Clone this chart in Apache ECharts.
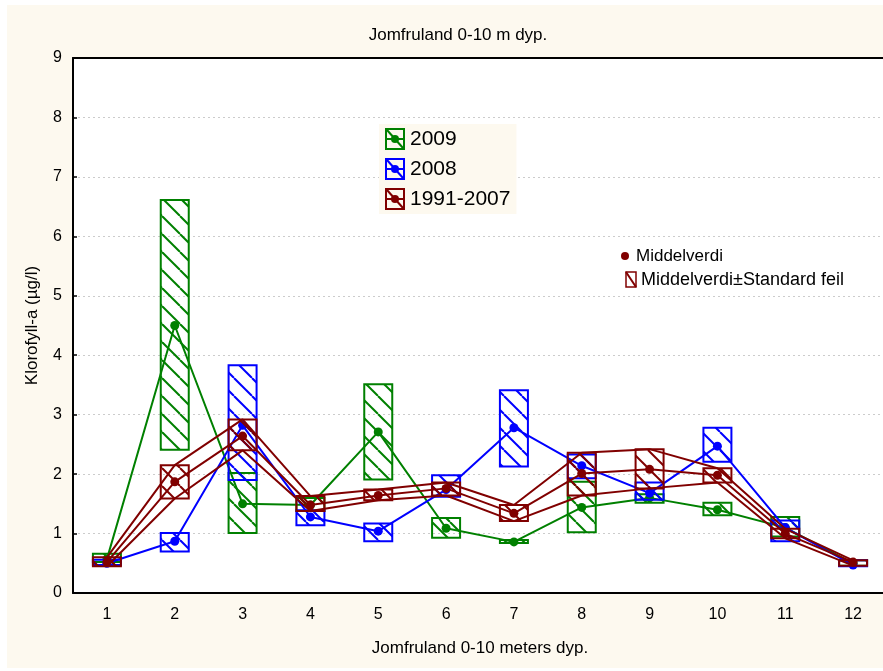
<!DOCTYPE html>
<html>
<head>
<meta charset="utf-8">
<script src="https://cdn.jsdelivr.net/npm/echarts@6/dist/echarts.min.js"></script>
<style>
  html, body { margin: 0; padding: 0; background: #fff; }
  #chart { width: 883px; height: 671px; }
</style>
</head>
<body>
<div id="chart"></div>
<script>
const depths = ['1', '2', '3', '4', '5', '6', '7', '8', '9', '10', '11', '12'];

const mean2009 = [0.57, 4.50, 1.50, 1.48, 2.71, 1.09, 0.86, 1.44, 1.60, 1.40, 1.10, 0.50];
const low2009  = [0.52, 2.41, 1.01, 1.38, 1.91, 0.93, 0.84, 1.02, 1.52, 1.31, 0.95, 0.46];
const high2009 = [0.66, 6.61, 2.02, 1.60, 3.51, 1.26, 0.89, 1.87, 1.66, 1.52, 1.28, 0.55];

const mean2008 = [0.50, 0.87, 2.82, 1.28, 1.04, 1.74, 2.78, 2.14, 1.68, 2.47, 1.10, 0.47];
const low2008  = [0.47, 0.70, 1.90, 1.14, 0.87, 1.62, 2.13, 1.93, 1.57, 2.21, 0.87, 0.45];
const high2008 = [0.56, 1.01, 3.83, 1.39, 1.17, 1.98, 3.41, 2.33, 1.86, 2.78, 1.22, 0.55];

const meanOld = [0.52, 1.87, 2.64, 1.48, 1.64, 1.76, 1.34, 2.01, 2.08, 1.98, 1.00, 0.52];
const lowOld  = [0.45, 1.59, 2.40, 1.38, 1.56, 1.64, 1.21, 1.64, 1.76, 1.86, 0.92, 0.46];
const highOld = [0.60, 2.15, 2.92, 1.63, 1.74, 1.86, 1.48, 2.36, 2.42, 2.10, 1.08, 0.55];

const GREEN = '#008000';
const BLUE = '#0000ff';
const RED = '#800000';
const CREAM = '#fdf9ef';
const FONT = '"Liberation Sans", Arial, sans-serif';

function hatch(color) {
  const c = document.createElement('canvas');
  c.width = 18; c.height = 18;
  const ctx = c.getContext('2d');
  ctx.strokeStyle = color;
  ctx.lineWidth = 2;
  [-18, 0, 18].forEach(off => {
    ctx.beginPath();
    ctx.moveTo(off, 0);
    ctx.lineTo(off + 18, 18);
    ctx.stroke();
  });
  return { image: c, repeat: 'repeat' };
}

function legendIcon(color) {
  const c = document.createElement('canvas');
  c.width = 20; c.height = 22;
  const ctx = c.getContext('2d');
  ctx.strokeStyle = color;
  ctx.fillStyle = color;
  ctx.lineWidth = 2;
  ctx.strokeRect(1, 1, 18, 20);
  ctx.beginPath(); ctx.moveTo(2, 2); ctx.lineTo(18, 20); ctx.stroke();
  ctx.beginPath(); ctx.moveTo(1, 11); ctx.lineTo(19, 11); ctx.stroke();
  ctx.beginPath(); ctx.arc(10, 11, 4, 0, Math.PI * 2); ctx.fill();
  return 'image://' + c.toDataURL();
}

function boxData(lo, hi) {
  return depths.map((d, i) => [i, lo[i], hi[i]]);
}

function boxSeries(name, color, lo, hi, z) {
  const pattern = hatch(color);
  return {
    name: name,
    type: 'custom',
    z: z,
    data: boxData(lo, hi),
    renderItem: (params, api) => {
      const top = api.coord([api.value(0), api.value(2)]);
      const bot = api.coord([api.value(0), api.value(1)]);
      const w = 28;
      return {
        type: 'rect',
        shape: { x: top[0] - w / 2, y: top[1], width: w, height: bot[1] - top[1] },
        style: { fill: pattern, stroke: color, lineWidth: 2 }
      };
    }
  };
}

function lineSeries(name, color, values, withDots, z) {
  return {
    name: name,
    type: 'line',
    z: z,
    data: values,
    symbol: withDots ? 'circle' : 'none',
    symbolSize: 9,
    showSymbol: withDots,
    lineStyle: { color: color, width: 2 },
    itemStyle: { color: color },
    emphasis: { disabled: true }
  };
}

const chart = echarts.init(document.getElementById('chart'));

chart.setOption({
  backgroundColor: '#fff',
  animation: false,
  textStyle: { fontFamily: FONT },
  title: {
    text: 'Jomfruland 0-10 m dyp.',
    left: 453,
    top: 22,
    textAlign: 'center',
    textStyle: { fontSize: 17, fontWeight: 'normal', color: '#000', fontFamily: FONT }
  },
  grid: {
    left: 73,
    top: 58,
    width: 814,
    height: 535,
    show: true,
    backgroundColor: '#fff',
    borderWidth: 0,
    outerBoundsMode: 'none'
  },
  legend: {
    orient: 'vertical',
    left: 379,
    top: 124,
    padding: [4, 6, 4, 6],
    backgroundColor: CREAM,
    itemWidth: 20,
    itemHeight: 22,
    itemGap: 8,
    textStyle: { fontSize: 21, color: '#000', fontFamily: FONT },
    data: [
      { name: '2009', icon: legendIcon(GREEN) },
      { name: '2008', icon: legendIcon(BLUE) },
      { name: '1991-2007', icon: legendIcon(RED) }
    ]
  },
  graphic: [
    {
      type: 'rect', z: -100, silent: true,
      shape: { x: 7, y: 5, width: 876, height: 663 },
      style: { fill: CREAM }
    },
    {
      type: 'circle', z: 100,
      shape: { cx: 625, cy: 256, r: 4 },
      style: { fill: RED }
    },
    {
      type: 'text', z: 100, x: 636, y: 256,
      style: { text: 'Middelverdi', font: '17px ' + FONT, fill: '#000', verticalAlign: 'middle' }
    },
    {
      type: 'rect', z: 100,
      shape: { x: 626, y: 272, width: 10, height: 15 },
      style: { fill: 'none', stroke: RED, lineWidth: 1.5 }
    },
    {
      type: 'line', z: 100,
      shape: { x1: 626, y1: 272, x2: 636, y2: 287 },
      style: { stroke: RED, lineWidth: 2 }
    },
    {
      type: 'text', z: 100, x: 641, y: 280,
      style: { text: 'Middelverdi±Standard feil', font: '18px ' + FONT, fill: '#000', verticalAlign: 'middle' }
    }
  ],
  xAxis: [
    {
      type: 'category',
      data: depths,
      position: 'bottom',
      boundaryGap: true,
      name: 'Jomfruland 0-10 meters dyp.',
      nameLocation: 'middle',
      nameGap: 47,
      nameMoveOverlap: false,
      nameTextStyle: { fontSize: 17, color: '#000', fontFamily: FONT },
      axisLine: { lineStyle: { color: '#000', width: 2 } },
      axisTick: { alignWithLabel: true, inside: true, length: 4, lineStyle: { color: '#000', width: 1.5 } },
      axisLabel: { fontSize: 16, color: '#000', margin: 14 },
      splitLine: { show: false }
    },
    {
      type: 'category',
      data: depths,
      position: 'top',
      boundaryGap: true,
      axisLine: { lineStyle: { color: '#000', width: 2 } },
      axisTick: { alignWithLabel: true, inside: true, length: 4, lineStyle: { color: '#000', width: 1.5 } },
      axisLabel: { show: false },
      splitLine: { show: false }
    }
  ],
  yAxis: {
    type: 'value',
    min: 0,
    max: 9,
    interval: 1,
    name: 'Klorofyll-a (µg/l)',
    nameLocation: 'middle',
    nameGap: 32,
    nameMoveOverlap: false,
    nameTextStyle: { fontSize: 17, color: '#000', fontFamily: FONT },
    axisLine: { show: true, lineStyle: { color: '#000', width: 2 } },
    axisTick: { show: true, inside: true, length: 4, lineStyle: { color: '#000', width: 1.5 } },
    axisLabel: { fontSize: 16, color: '#000', margin: 11 },
    splitLine: { lineStyle: { color: '#cccccc', type: [2, 3], width: 1 } }
  },
  series: [
    boxSeries('2009', GREEN, low2009, high2009, 2),
    lineSeries('2009', GREEN, mean2009, true, 3),
    boxSeries('2008', BLUE, low2008, high2008, 4),
    lineSeries('2008', BLUE, mean2008, true, 5),
    boxSeries('1991-2007', RED, lowOld, highOld, 6),
    lineSeries('1991-2007', RED, highOld, false, 7),
    lineSeries('1991-2007', RED, lowOld, false, 7),
    lineSeries('1991-2007', RED, meanOld, true, 8)
  ]
});
</script>
</body>
</html>
